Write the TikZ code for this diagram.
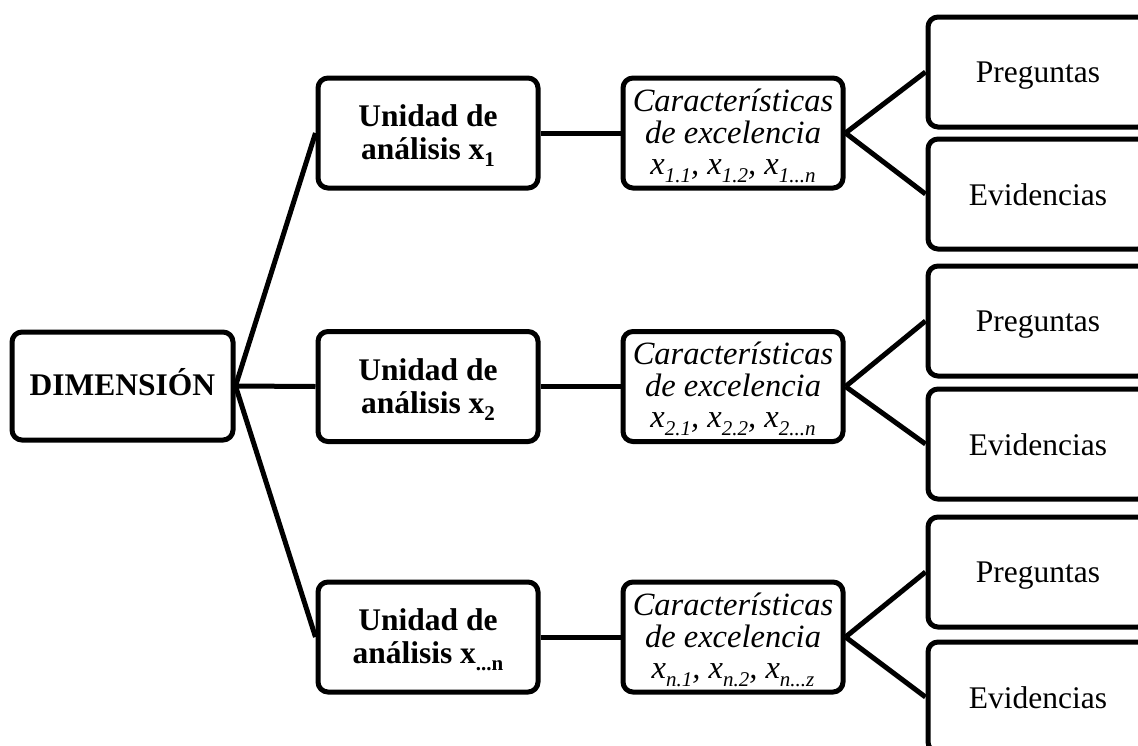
\documentclass[tikz,border=0pt]{standalone}
\usepackage{fontspec}
\setmainfont{Liberation Serif}
% lowered, smaller index after a variable name
\newcommand{\lowsub}[2][7pt]{\raisebox{-#1}{\fontsize{21}{21}\selectfont #2}}
\begin{document}
\begin{tikzpicture}[x=1pt,y=-1pt,
  box/.style={draw,line width=5pt,rounded corners=10pt,minimum width=220pt,
    minimum height=110pt,inner sep=0pt},
  txt/.style={anchor=base,inner sep=0pt,font=\fontsize{31.5}{33}\selectfont},
  btxt/.style={txt,font=\fontsize{31.5}{33}\selectfont\bfseries},
  itxt/.style={txt,font=\fontsize{32.5}{33}\selectfont\itshape},
  link/.style={line width=5pt}]
\clip (0,0) rectangle (1138,745);

% root (text positions: baseline offset below each box centre)
\node[box,minimum width=221pt,minimum height=108pt] (dim) at (122.5,386) {};
\node[btxt] (dimt) at ([yshift=-9pt]dim.center) {DIMENSIÓN};

% analysis units, characteristics, questions and evidence per row
\foreach \i/\y/\py/\ey/\s in {1/133/72/194/1, 2/386.5/321/444/2, 3/637/572/697/{...n}}{
  \node[box] (u\i) at (428,\y) {};
  \node[btxt] (u\i a) at ([yshift=6.5pt]u\i.center) {Unidad de};
  \node[btxt] (u\i b) at ([yshift=-26.5pt]u\i.center) {análisis x\lowsub{\s}};
  \node[box] (c\i) at (733,\y) {};
  \node[itxt] (c\i a) at ([yshift=22pt]c\i.center) {Características};
  \node[itxt] (c\i b) at ([yshift=-10pt]c\i.center) {de excelencia};
  \node[box] (p\i) at (1038,\py) {};
  \node[txt] (p\i t) at ([yshift=-10pt]p\i.center) {Preguntas};
  \node[box] (e\i) at (1038,\ey) {};
  \node[txt] (e\i t) at ([yshift=-11pt]e\i.center) {Evidencias};
}
\node[itxt] (c1c) at ([yshift=-41pt]c1.center)
  {x\lowsub[8pt]{1.1}, x\lowsub[8pt]{1.2}, x\lowsub[8pt]{1...n}};
\node[itxt] (c2c) at ([yshift=-41pt]c2.center)
  {x\lowsub[8pt]{2.1}, x\lowsub[8pt]{2.2}, x\lowsub[8pt]{2...n}};
\node[itxt] (c3c) at ([yshift=-41pt]c3.center)
  {x\lowsub[8pt]{n.1}, x\lowsub[8pt]{n.2}, x\lowsub[8pt]{n...z}};

% connectors
\foreach \i in {1,2,3}{
  \draw[link] (dim.east) -- (u\i.west);
  \draw[link] (u\i.east) -- (c\i.west);
  \draw[link] (c\i.east) -- (p\i.west);
  \draw[link] (c\i.east) -- (e\i.west);
}
\end{tikzpicture}
\end{document}
